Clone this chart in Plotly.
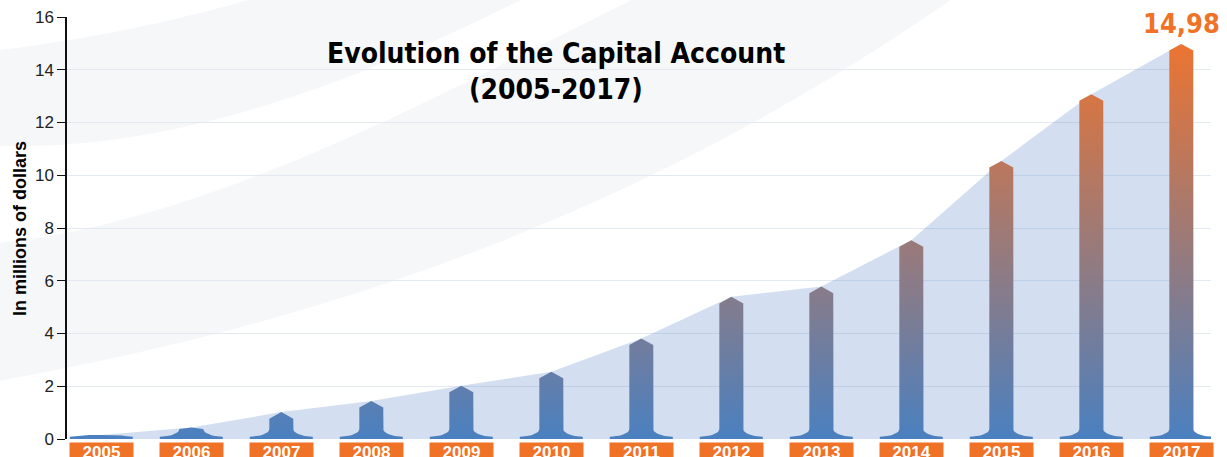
import numpy as np
import plotly.graph_objects as go

# ---------------- data ----------------
years = ["2005", "2006", "2007", "2008", "2009", "2010", "2011",
         "2012", "2013", "2014", "2015", "2016", "2017"]
values = [0.15, 0.44, 1.02, 1.44, 2.02, 2.55, 3.81,
          5.39, 5.78, 7.54, 10.54, 13.07, 14.98]
highlight_label = "14,98"
title_line1 = "Evolution of the Capital Account"
title_line2 = "(2005-2017)"
y_title = "In millions of dollars"
y_ticks = [0, 2, 4, 6, 8, 10, 12, 14, 16]

# ---------------- styling ----------------
W, H = 1227, 457
ML, MR, MT, MB = 67, 16, 17, 18
PW, PH = W - ML - MR, H - MT - MB
BLUE = "#4A80C0"
ORANGE_TOP = "#EC7431"
ORANGE = "#F07227"
AREA = "rgba(72,120,192,0.24)"
GRID = "rgb(226,233,243)"
BAND = "rgb(246,247,249)"
NARROW = "Liberation Sans Narrow, DejaVu Sans Condensed, Liberation Sans, sans-serif"
SANS = "Liberation Sans, Arial, sans-serif"

xmin = -(101.3 - ML) / 90.0
xmax = xmin + PW / 90.0


def px2paper(px, py):
    return (px - ML) / PW, (H - MB - py) / PH


def smooth(points, deg=3, n=60):
    pts = np.array(points, dtype=float)
    coef = np.polyfit(pts[:, 0], pts[:, 1], deg)
    xs = np.linspace(pts[0, 0], pts[-1, 0], n)
    return list(zip(xs, np.polyval(coef, xs)))


def band_path(upper, lower, du, dl):
    pts = smooth(upper, du) + smooth(lower, dl)[::-1]
    segs = []
    for j, (px, py) in enumerate(pts):
        xp, yp = px2paper(px, py)
        segs.append(("M" if j == 0 else "L") + f"{xp:.5f},{yp:.5f}")
    return " ".join(segs) + " Z"


band1_upper = [(-12, 52), (0, 50), (100, 33), (200, 15), (250, 0), (272, -8)]
band1_lower = [(-12, 146), (0, 145), (173, 130), (200, 123), (360, 72), (523, 0), (537, -9)]
band2_upper = [(-12, 245), (0, 242), (200, 195), (373, 130), (500, 62), (600, 17), (633, 0), (647, -8)]
band2_lower = [(-12, 383), (0, 380), (233, 330), (420, 270), (600, 200), (650, 177),
               (800, 95), (950, 0), (964, -9)]

shapes = [
    dict(type="path", xref="paper", yref="paper", layer="below",
         path=band_path(band1_upper, band1_lower, 2, 3), fillcolor=BAND, line=dict(width=0)),
    dict(type="path", xref="paper", yref="paper", layer="below",
         path=band_path(band2_upper, band2_lower, 3, 3), fillcolor=BAND, line=dict(width=0)),
]

# ---------------- arrow polygons (from values) ----------------
SW, BW = 0.133, 0.35          # shaft half width, base half width (x units)
PLATE, FH, TH = 0.09, 0.38, 0.25   # base plate, flare height, tip height (y units)


def arrow(cx, v):
    rx, ry = BW - SW, FH - PLATE
    th = np.linspace(0, np.pi / 2, 12)
    lx = (-BW + rx * np.sin(th)).tolist()
    ly = (FH - ry * np.cos(th)).tolist()
    shoulder = max(v - TH, FH)
    rel = [(-BW, 0.0)] + list(zip(lx, ly)) + [(-SW, shoulder), (0.0, v), (SW, shoulder)]
    rel += [(-x, y) for x, y in zip(lx[::-1], ly[::-1])] + [(BW, 0.0)]
    xs = [cx + x for x, _ in rel]
    ys = [min(y, v) for _, y in rel]
    return xs, ys


ax, ay = [], []
for i, v in enumerate(values):
    xs, ys = arrow(i, v)
    ax += xs + [None]
    ay += ys + [None]

fig = go.Figure()
fig.add_trace(go.Scatter(
    x=list(range(len(years))), y=values, mode="lines", fill="tozeroy",
    fillcolor=AREA, line=dict(width=0), hoverinfo="skip", showlegend=False))
fig.add_trace(go.Scatter(
    x=ax, y=ay, mode="lines", fill="toself", line=dict(width=0, color=BLUE),
    fillgradient=dict(type="vertical", colorscale=[[0, BLUE], [1, ORANGE_TOP]],
                      start=0, stop=15),
    hoverinfo="skip", showlegend=False))

annotations = []
for i, yr in enumerate(years):
    annotations.append(dict(
        x=i, xref="x", y=0, yref="paper", yanchor="top", yshift=-3,
        text=f"<b>{yr}</b>", showarrow=False, width=63, height=18,
        bgcolor=ORANGE, borderpad=0, font=dict(family=SANS, size=17, color="white")))

annotations.append(dict(
    x=len(years) - 1, xref="x", y=values[-1], yref="y", yanchor="bottom", yshift=3,
    text=f"<b>{highlight_label}</b>", showarrow=False,
    font=dict(family=NARROW, size=27, color=ORANGE)))

tx, ty1 = px2paper(556, 53)
_, ty2 = px2paper(556, 90)
annotations.append(dict(x=tx, y=ty1, xref="paper", yref="paper", text=f"<b>{title_line1}</b>",
                        showarrow=False, xanchor="center", yanchor="middle",
                        font=dict(family=NARROW, size=28, color="black")))
annotations.append(dict(x=tx, y=ty2, xref="paper", yref="paper", text=f"<b>{title_line2}</b>",
                        showarrow=False, xanchor="center", yanchor="middle",
                        font=dict(family=NARROW, size=28, color="black")))

yx, yy = px2paper(19.5, 228.5)
annotations.append(dict(x=yx, y=yy, xref="paper", yref="paper", text=f"<b>{y_title}</b>",
                        textangle=-90, showarrow=False, xanchor="center", yanchor="middle",
                        font=dict(family=SANS, size=18, color="black")))

fig.update_layout(
    width=W, height=H,
    margin=dict(l=ML, r=MR, t=MT, b=MB, pad=0, autoexpand=False),
    paper_bgcolor="white", plot_bgcolor="rgba(0,0,0,0)",
    shapes=shapes, annotations=annotations, showlegend=False,
    xaxis=dict(range=[xmin, xmax], showgrid=False, zeroline=False, showline=False,
               showticklabels=False, ticks="", fixedrange=True, automargin=False),
    yaxis=dict(range=[0, 16], tickvals=y_ticks, ticktext=[str(t) for t in y_ticks],
               showgrid=True, gridcolor=GRID, gridwidth=1, zeroline=False,
               showline=True, linecolor="#111", linewidth=1.5,
               ticks="outside", ticklen=8, tickwidth=1, tickcolor="#111",
               tickfont=dict(family=SANS, size=17, color="#222"), fixedrange=True,
               automargin=False),
)

fig.write_html("out.html", config={"displayModeBar": False},
               post_script="document.body.style.margin='0';document.body.style.overflow='hidden';")
